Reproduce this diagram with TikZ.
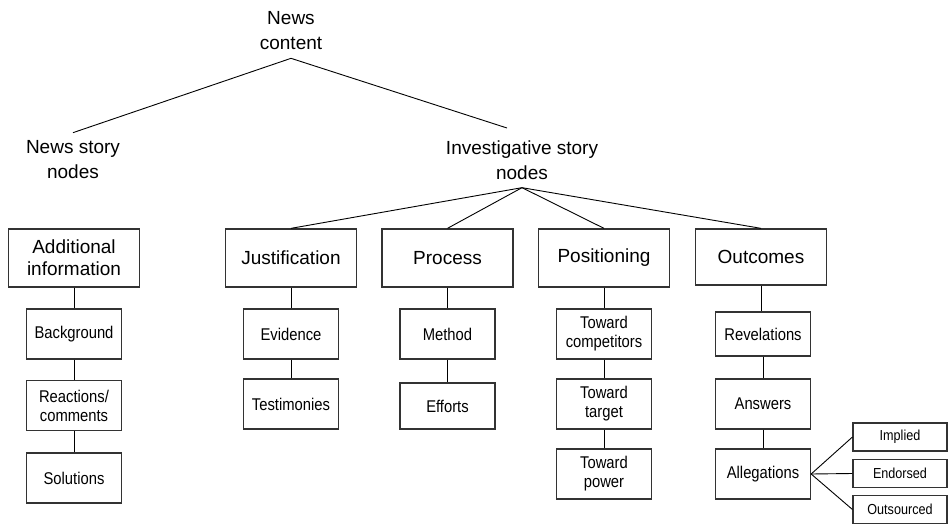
\documentclass[tikz,border=0pt]{standalone}
\usepackage{fontspec}
\setmainfont{Liberation Sans}
\newfontfamily\narrowfont{Liberation Sans}[FakeStretch=0.87]

\begin{document}
\begin{tikzpicture}[x=1pt,y=-1pt,
    heading/.style={align=center,inner sep=8pt,font=\fontsize{19}{25}\selectfont},
    mainbox/.style={draw=black!80,line width=1.3pt,minimum width=131pt,minimum height=58pt,align=center,inner sep=0pt,font=\fontsize{19}{22}\selectfont},
    subbox/.style={draw=black!80,line width=1.3pt,minimum width=95pt,minimum height=50pt,align=center,inner sep=0pt,font=\narrowfont\fontsize{17}{19}\selectfont},
    tinybox/.style={draw=black!80,line width=1.1pt,minimum width=94pt,minimum height=28pt,inner sep=0pt,font=\narrowfont\fontsize{14.5}{16}\selectfont},
    link/.style={line width=0.9pt}]
    \useasboundingbox (0,0) rectangle (948,524);

    \node[heading] (news) at (291,31) {News\\content};
    \node[heading] (story) at (73,160) {News story\\nodes};
    \node[heading] (inv) at (522,160) {Investigative story\\nodes};
    \coordinate (invin) at (507,128);

    \node[mainbox] (addinfo) at (74,258) {Additional\\information};
    \node[mainbox] (justif) at (291,258) {Justification};
    \node[mainbox] (process) at (447.5,258) {Process};
    \node[mainbox] (position) at (604,258) {Positioning};
    \node[mainbox,minimum height=56pt] (outcome) at (761,257) {Outcomes};

    \node[subbox] (backgr) at (74,334) {Background};
    \node[subbox] (react) at (74,405.5) {Reactions/\\comments};
    \node[subbox] (solut) at (74,478) {Solutions};

    \node[subbox] (evid) at (291,334) {Evidence};
    \node[subbox] (testim) at (291,404) {Testimonies};

    \node[subbox] (method) at (447.5,334) {Method};
    \node[subbox,minimum height=46pt] (effort) at (447.5,406) {Efforts};

    \node[subbox] (competit) at (604,334) {Toward\\competitors};
    \node[subbox] (target) at (604,404) {Toward\\target};
    \node[subbox] (power) at (604,474) {Toward\\power};

    \node[subbox,minimum height=44pt] (revel) at (763,334) {Revelations};
    \node[subbox] (answer) at (763,404) {Answers};
    \node[subbox] (alleg) at (763,474) {Allegations};

    \node[tinybox] (implied) at (900,437) {Implied};
    \node[tinybox] (endorse) at (900,473.5) {Endorsed};
    \node[tinybox] (outsrc) at (900,509.5) {Outsourced};

    \draw[link] (news.south) -- (story.north);
    \draw[link] (news.south) -- (invin);

    \draw[link] (inv.south) -- (justif.north);
    \draw[link] (inv.south) -- (process.north);
    \draw[link] (inv.south) -- (position.north);
    \draw[link] (inv.south) -- (outcome.north);

    \draw[link] (addinfo.south) -- (backgr.north);
    \draw[link] (backgr.south) -- (react.north);
    \draw[link] (react.south) -- (solut.north);

    \draw[link] (justif.south) -- (evid.north);
    \draw[link] (evid.south) -- (testim.north);

    \draw[link] (process.south) -- (method.north);
    \draw[link] (method.south) -- (effort.north);

    \draw[link] (position.south) -- (competit.north);
    \draw[link] (competit.south) -- (target.north);
    \draw[link] (target.south) -- (power.north);

    \draw[link] (outcome.south) -- (outcome.south |- revel.north);
    \draw[link] (revel.south) -- (answer.north);
    \draw[link] (answer.south) -- (alleg.north);

    \draw[link] (alleg.east) -- (implied.west);
    \draw[link] (alleg.east) -- (endorse.west);
    \draw[link] (alleg.east) -- (outsrc.west);
  \end{tikzpicture}
\end{document}
